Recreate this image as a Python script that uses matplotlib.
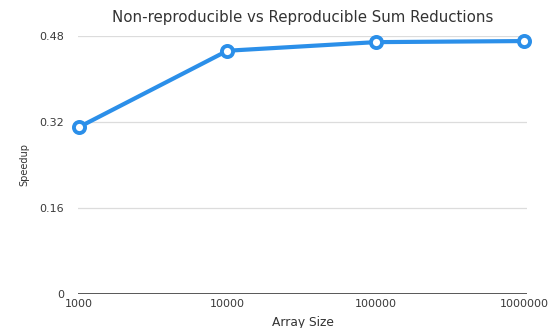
import numpy as np
import matplotlib
matplotlib.use('Agg')
import matplotlib.pyplot as plt

#data
sizes = ['1000', '10000', '100000', '1000000']
speedup = [0.310, 0.452, 0.468, 0.470]
yticks = [0, 0.16, 0.32, 0.48]
ytick_labels = ['0', '0.16', '0.32', '0.48']

plt.rcParams['font.family'] = ['DejaVu Sans']

fig = plt.figure(figsize=(5.51, 3.28), dpi=100)
ax = fig.add_axes([0.1416, 0.1046, 0.8148, 0.7866])

x = np.arange(len(sizes))
ax.plot(x, speedup, color='#2b8fe9', lw=3, marker='o', ms=8,
        mfc='white', mec='#2b8fe9', mew=2.8, zorder=3, clip_on=False)

ax.set_xlim(-0.007, len(sizes) - 1 + 0.02)
ax.set_ylim(0, 0.48)
ax.set_xticks(x)
ax.set_xticklabels(sizes)
ax.set_yticks(yticks)
ax.set_yticklabels(ytick_labels)

#grid
for y in yticks[1:]:
    ax.axhline(y, color='#dcdcdc', lw=0.9, zorder=1)
ax.axhline(0, color='#4a4a4a', lw=1.3, zorder=2)

for s in ax.spines.values():
    s.set_visible(False)
ax.tick_params(length=0, labelsize=8, colors='#3a3a3a')
ax.tick_params(axis='y', pad=10)
ax.tick_params(axis='x', pad=4)

ax.set_title('Non-reproducible vs Reproducible Sum Reductions', fontsize=10.8,
             color='#333333', pad=10)
ax.set_xlabel('Array Size', fontsize=8.8, color='#333333', labelpad=5)
ax.set_ylabel('Speedup', fontsize=7, color='#333333', labelpad=7)

fig.savefig('out.png', dpi=100)
